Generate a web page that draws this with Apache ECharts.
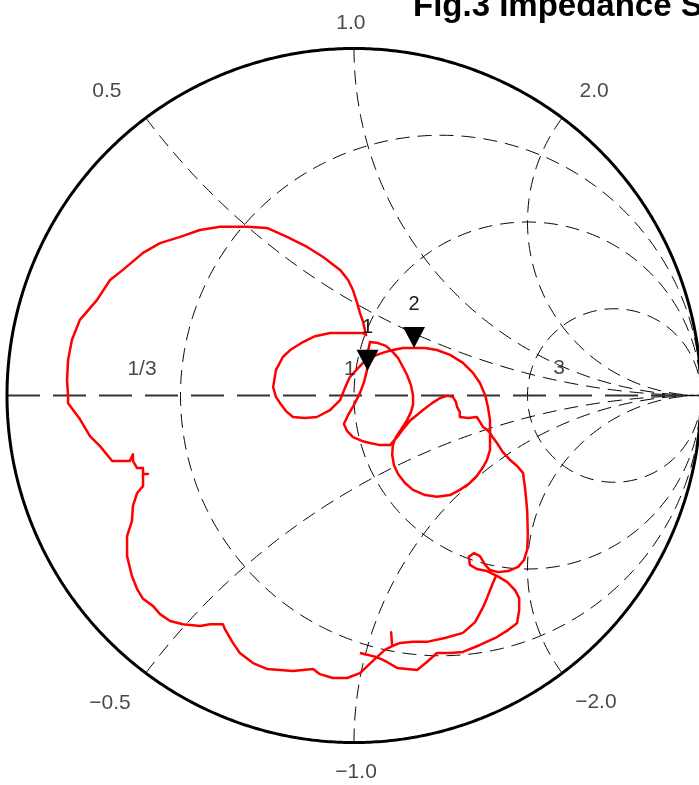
<!DOCTYPE html>
<html><head><meta charset="utf-8">
<script src="https://cdn.jsdelivr.net/npm/echarts@6.0.0/dist/echarts.min.js"></script>
<style>html,body{margin:0;padding:0;background:#fff;overflow:hidden}#c{width:699px;height:785px}</style>
</head><body><div id="c"></div>
<script>
// ---- chart values ----
const resistanceValues = [1/3, 1, 3];
const resistanceLabels = ['1/3', '1', '3'];
const reactanceValues = [0.5, 1, 2, -0.5, -1, -2];
const reactanceLabels = ['0.5', '1.0', '2.0', '\u22120.5', '\u22121.0', '\u22122.0'];
const startSpike = [[0.017,-0.742],[0.066,-0.754]];
const outerLoop = [[0.017,-0.800],[-0.020,-0.814],[-0.061,-0.814],[-0.098,-0.803],[-0.118,-0.788],[-0.176,-0.794],[-0.251,-0.788],[-0.291,-0.771],[-0.329,-0.742],[-0.349,-0.713],[-0.372,-0.673],[-0.378,-0.659],[-0.415,-0.659],[-0.444,-0.664],[-0.493,-0.659],[-0.530,-0.650],[-0.559,-0.630],[-0.579,-0.607],[-0.608,-0.586],[-0.625,-0.558],[-0.640,-0.520],[-0.654,-0.463],[-0.654,-0.405],[-0.640,-0.362],[-0.637,-0.318],[-0.625,-0.281],[-0.608,-0.261],[-0.608,-0.226],[-0.594,-0.226],[-0.608,-0.226],[-0.608,-0.209],[-0.625,-0.209],[-0.637,-0.189],[-0.637,-0.169],[-0.646,-0.189],[-0.697,-0.189],[-0.732,-0.146],[-0.761,-0.117],[-0.790,-0.068],[-0.824,-0.022],[-0.824,-0.001],[-0.827,0.045],[-0.824,0.102],[-0.813,0.160],[-0.790,0.218],[-0.741,0.275],[-0.703,0.333],[-0.666,0.362],[-0.608,0.411],[-0.559,0.439],[-0.501,0.457],[-0.444,0.477],[-0.386,0.486],[-0.308,0.486],[-0.251,0.483],[-0.193,0.457],[-0.135,0.428],[-0.089,0.399],[-0.040,0.362],[-0.017,0.333],[-0.003,0.304],[0.009,0.267],[0.017,0.238],[0.026,0.212],[0.035,0.174]];
const innerLoops = [[0.026,0.180],[-0.026,0.180],[-0.069,0.180],[-0.112,0.171],[-0.147,0.154],[-0.184,0.131],[-0.205,0.111],[-0.225,0.073],[-0.233,0.024],[-0.225,-0.004],[-0.213,-0.022],[-0.196,-0.045],[-0.176,-0.062],[-0.141,-0.065],[-0.107,-0.062],[-0.069,-0.042],[-0.040,-0.013],[-0.026,0.022],[-0.012,0.053],[0.009,0.076],[0.026,0.094],[0.046,0.108],[0.066,0.117],[0.089,0.125],[0.112,0.131],[0.141,0.137],[0.170,0.137],[0.205,0.137],[0.239,0.131],[0.277,0.117],[0.314,0.094],[0.343,0.065],[0.363,0.036],[0.378,0.001],[0.386,-0.033],[0.392,-0.071],[0.392,-0.099],[0.392,-0.157],[0.383,-0.186],[0.372,-0.206],[0.354,-0.232],[0.334,-0.252],[0.305,-0.272],[0.277,-0.287],[0.239,-0.292],[0.205,-0.287],[0.170,-0.272],[0.147,-0.252],[0.127,-0.226],[0.115,-0.200],[0.110,-0.171],[0.112,-0.143],[0.121,-0.120],[0.138,-0.094],[0.153,-0.071],[0.164,-0.048],[0.170,-0.027],[0.170,0.001],[0.164,0.030],[0.153,0.059],[0.141,0.082],[0.127,0.108],[0.112,0.125],[0.092,0.143],[0.069,0.151],[0.046,0.154]];
const sweepTail = [[0.040,0.125],[0.040,0.097],[0.037,0.071],[0.029,0.039],[0.017,0.007],[0.000,-0.027],[-0.017,-0.056],[-0.029,-0.082],[-0.020,-0.102],[-0.003,-0.120],[0.023,-0.131],[0.046,-0.137],[0.075,-0.143],[0.104,-0.143],[0.124,-0.120],[0.141,-0.097],[0.161,-0.073],[0.199,-0.042],[0.225,-0.022],[0.248,-0.007],[0.268,-0.001],[0.285,-0.004],[0.294,-0.019],[0.297,-0.033],[0.305,-0.048],[0.305,-0.062],[0.329,-0.065],[0.354,-0.062],[0.363,-0.076],[0.372,-0.091],[0.383,-0.099],[0.392,-0.108],[0.401,-0.122],[0.412,-0.137],[0.429,-0.163],[0.450,-0.186],[0.470,-0.203],[0.487,-0.223],[0.493,-0.267],[0.499,-0.330],[0.501,-0.402],[0.499,-0.445],[0.490,-0.474],[0.473,-0.494],[0.444,-0.506],[0.415,-0.509],[0.392,-0.503],[0.378,-0.488],[0.363,-0.463],[0.346,-0.454],[0.331,-0.465],[0.334,-0.488],[0.354,-0.500],[0.383,-0.506],[0.412,-0.520],[0.441,-0.537],[0.464,-0.561],[0.476,-0.584],[0.476,-0.618],[0.470,-0.656],[0.444,-0.676],[0.412,-0.696],[0.363,-0.719],[0.314,-0.739],[0.277,-0.742],[0.239,-0.742],[0.210,-0.768],[0.182,-0.791],[0.153,-0.788],[0.124,-0.785],[0.095,-0.768],[0.066,-0.754]];
const returnLine = [[0.089,-0.733],[0.110,-0.722],[0.107,-0.682],[0.110,-0.722],[0.133,-0.713],[0.170,-0.710],[0.210,-0.710],[0.262,-0.699],[0.314,-0.684],[0.349,-0.653],[0.372,-0.610],[0.383,-0.584],[0.398,-0.546],[0.409,-0.520]];
const markerNames = ['1', '2'];
const markerRe = [0.039, 0.173];
const markerIm = [0.071, 0.137];

// ---- layout (label anchor points in chart units) ----
const reactanceLabelPos = [[-0.712,0.877],[-0.009,1.073],[0.692,0.877],[-0.703,-0.888],[0.006,-1.085],[0.697,-0.885]];
const resistanceLabelPos = [[-0.611,0.077],[-0.012,0.077],[0.591,0.079]];

const sweep = [].concat(startSpike, outerLoop, innerLoops, sweepTail, returnLine);

function rCircle(r){const c=r/(1+r),R=1/(1+r),p=[];for(let i=0;i<=720;i++){const t=i*Math.PI/360;p.push([c+R*Math.cos(t),R*Math.sin(t)]);}return p;}
function xArc(x){const p=[];for(let i=0;i<=600;i++){const s=i*(Math.PI/2)/600;const r=i===600?1e9:Math.tan(s);const D=(r+1)*(r+1)+x*x;p.push([(r*r+x*x-1)/D,2*x/D]);}return p;}
function unit(){const p=[];for(let i=0;i<=720;i++){const t=i*Math.PI/360;p.push([Math.cos(t),Math.sin(t)]);}return p;}

const gridLine = {color:'#000',width:1,type:[14,8]};
const series = [];
resistanceValues.forEach(r=>series.push({type:'line',data:rCircle(r),showSymbol:false,silent:true,clip:false,lineStyle:gridLine,z:1}));
reactanceValues.forEach(x=>series.push({type:'line',data:xArc(x),showSymbol:false,silent:true,clip:false,lineStyle:gridLine,z:1}));
series.push({type:'line',data:[[-1,0],[1,0]],showSymbol:false,silent:true,clip:false,lineStyle:{color:'#333',width:2,type:[33,13]},z:2});
series.push({type:'line',data:unit(),showSymbol:false,silent:true,clip:false,lineStyle:{color:'#000',width:3},z:3});
series.push({type:'line',data:sweep,showSymbol:false,clip:false,lineStyle:{color:'#ff0000',width:2.5,join:'round'},z:5});
series.push({type:'scatter',clip:false,data:markerNames.map((n,i)=>({name:n,value:[markerRe[i],markerIm[i]]})),
  symbol:'path://M0,0 L22,0 L11,21 Z',symbolSize:[22,21],symbolOffset:[0,-10.5],itemStyle:{color:'#000',opacity:1},z:6,
  label:{show:true,position:'top',distance:12,formatter:'{b}',color:'#1a1a1a',fontSize:20,fontFamily:'Liberation Sans'}});
const labelStyle = {show:true,position:'inside',color:'#1a1a1a',fontSize:21,fontFamily:'Liberation Sans'};
series.push({type:'scatter',symbolSize:0,silent:true,clip:false,z:7,label:Object.assign({formatter:'{b}'},labelStyle),
  data:reactanceLabels.map((t,i)=>({name:t,value:reactanceLabelPos[i]}))});
series.push({type:'scatter',symbolSize:0,silent:true,clip:false,z:7,label:Object.assign({formatter:'{b}'},labelStyle),
  data:resistanceLabels.map((t,i)=>({name:t,value:resistanceLabelPos[i]}))});

const chart = echarts.init(document.getElementById('c'),null,{renderer:'canvas'});
chart.setOption({
  animation:false,
  backgroundColor:'#fff',
  title:{text:'Fig.3 Impedance Smith Chart',left:413,top:-10,padding:0,textStyle:{fontSize:33,fontWeight:'bold',fontFamily:'Liberation Sans',color:'#000'}},
  grid:{left:7,top:48.5,width:694,height:694,show:false,containLabel:false,outerBoundsMode:'none'},
  xAxis:{type:'value',min:-1,max:1,show:false},
  yAxis:{type:'value',min:-1,max:1,show:false},
  series:series
});
</script></body></html>
